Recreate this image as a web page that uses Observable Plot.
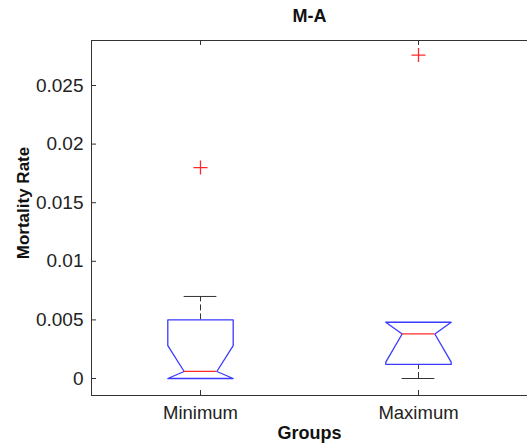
<!DOCTYPE html>
<html><head><meta charset="utf-8">
<script src="https://cdn.jsdelivr.net/npm/d3@7"></script>
<script src="https://cdn.jsdelivr.net/npm/@observablehq/plot@0.6"></script>
<style>body{margin:0;background:#fff} svg{display:block}</style>
</head><body><div id="chart"></div>
<script>
const categories = ["Minimum", "Maximum"];
const q1 = [0.0000, 0.0012];
const medians = [0.0006, 0.0038];
const q3 = [0.0050, 0.0048];
const notchLo = [-0.0016, 0.0014];
const notchHi = [0.0028, 0.0062];
const whiskerLo = [0.0000, 0.0000];
const whiskerHi = [0.0070, 0.0048];
const outliers = [0.0180, 0.0276];
const yTicks = [0, 0.005, 0.01, 0.015, 0.02, 0.025];
const yTickLabels = ["0", "0.005", "0.01", "0.015", "0.02", "0.025"];
const titleText = "M-A", xLabel = "Groups", yLabel = "Mortality Rate";

const W = 0.15, N = 0.075; // box half-width, notch half-width (x units)
const pos = categories.map((c, i) => i + 1);

const boxPts = [];
categories.forEach((c, i) => {
  const p = pos[i];
  const lo = Math.max(notchLo[i], q1[i]), hi = Math.min(notchHi[i], q3[i]);
  const pts = [[p-W,q3[i]],[p+W,q3[i]],[p+W,hi],[p+N,medians[i]],[p+W,lo],[p+W,q1[i]],
               [p-W,q1[i]],[p-W,lo],[p-N,medians[i]],[p-W,hi],[p-W,q3[i]]];
  pts.forEach(([x, y]) => boxPts.push({g: c, x, y}));
});
const rows = categories.map((c, i) => ({c, p: pos[i], q1: q1[i], q3: q3[i], med: medians[i], lo: whiskerLo[i], hi: whiskerHi[i], out: outliers[i]}));
const upper = rows.filter(d => d.hi > d.q3);
const lower = rows.filter(d => d.lo < d.q1);

const width = 527, height = 444, mT = 40, mB = 49, mL = 91, mR = 0, tick = 5;
const frameW = width - mL - mR, frameH = height - mT - mB;

const font = "Liberation Sans, Arial, Helvetica, sans-serif";
const chart = Plot.plot({
  width, height,
  marginTop: mT, marginBottom: mB, marginLeft: mL, marginRight: mR,
  style: {fontFamily: font, background: "#fff", color: "#222"},
  x: {type: "linear", domain: [0.5, 2.5], axis: null},
  y: {domain: [-0.00145, 0.02884], axis: null},
  marks: [
    Plot.ruleX(upper, {x: "p", y1: "q3", y2: "hi", stroke: "#333", strokeDasharray: "6,3"}),
    Plot.ruleX(lower, {x: "p", y1: "lo", y2: "q1", stroke: "#333", strokeDasharray: "6,3"}),
    Plot.ruleY(upper, {y: "hi", x1: d => d.p - N, x2: d => d.p + N, stroke: "#333"}),
    Plot.ruleY(lower, {y: "lo", x1: d => d.p - N, x2: d => d.p + N, stroke: "#333"}),
    Plot.line(boxPts, {x: "x", y: "y", z: "g", stroke: "#3a3aff", strokeWidth: 1.3, curve: "linear"}),
    Plot.ruleY(rows, {y: "med", x1: d => d.p - N, x2: d => d.p + N, stroke: "#ff2a2a", strokeWidth: 1.3}),
    Plot.dot(rows, {x: "p", y: "out", symbol: "plus", r: 4.6, stroke: "#ff2a2a", strokeWidth: 1.3}),
    Plot.axisY(yTicks, {anchor: "left", tickSize: 0, tickPadding: 8, tickFormat: (d) => yTickLabels[yTicks.indexOf(d)], fontSize: 19, label: null}),
    Plot.axisX(pos, {anchor: "bottom", tickSize: 0, tickPadding: 10, tickFormat: (d) => categories[pos.indexOf(d)], fontSize: 18.5, label: null}),
    Plot.tickY(yTicks, {y: d => d, insetRight: frameW - tick, stroke: "#333"}),
    Plot.tickX(pos, {x: d => d, insetTop: frameH - tick, stroke: "#333"}),
    Plot.tickX(pos, {x: d => d, insetBottom: frameH - tick, stroke: "#333"}),
    Plot.frame({stroke: "#333"}),
    Plot.text([titleText], {frameAnchor: "top", dy: -31, fontWeight: "bold", fontSize: 18, fill: "#111"}),
    Plot.text([xLabel], {frameAnchor: "bottom", dy: 43, fontWeight: "bold", fontSize: 18, fill: "#111"}),
    Plot.text([yLabel], {frameAnchor: "left", textAnchor: "middle", rotate: -90, dx: -68, dy: -15, fontWeight: "bold", fontSize: 17, fill: "#111"})
  ]
});
document.getElementById("chart").append(chart);
</script>
</body></html>
